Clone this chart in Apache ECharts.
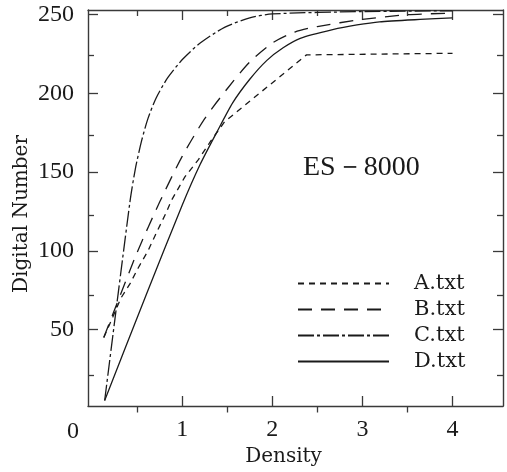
<!DOCTYPE html>
<html><head><meta charset="utf-8">
<script src="https://cdn.jsdelivr.net/npm/echarts@6/dist/echarts.min.js"></script>
<style>html,body{margin:0;padding:0;background:#fff}#c{width:507px;height:472px}</style>
</head><body><div id="c"></div>
<script>
// ---- data ----
const seriesNames = ['A.txt', 'B.txt', 'C.txt', 'D.txt'];
const dataA = [[0.13,45],[0.23,58],[0.32,70],[0.42,79],[0.51,89],[0.62,100],[0.71,111],[0.82,124],[0.88,132],[1.03,147],[1.18,158],[1.32,170],[1.47,182],[2.38,224.5],[4.0,225.5]];
const dataB = [[0.13,45],[0.3,70],[0.5,99],[0.75,131],[1.0,160],[1.25,184],[1.5,203],[1.75,220],[2.0,232],[2.25,239],[2.5,242.5],[3.0,247],[3.5,250],[4.0,251]];
const dataC = [[0.14,5],[0.42,131],[0.48,152],[0.55,170],[0.62,184],[0.71,197],[0.84,210],[1.01,222],[1.2,232],[1.47,242],[1.75,248],[2.0,250.5],[3.0,252],[4.0,252.5]];
const dataD = [[0.14,5],[0.6,72],[1.0,129],[1.2,155],[1.39,176],[1.56,194],[1.75,209],[1.94,221],[2.12,229],[2.31,235],[2.67,240.5],[2.94,243.5],[3.19,245.5],[3.64,247],[4.0,248]];
const xMajorTicks = [1, 2, 3, 4];
const xMinorTicks = [0.5, 1.5, 2.5, 3.5];
const yMajorTicks = [50, 100, 150, 200, 250];
const yMinorTicks = [25, 75, 125, 175, 225];
const originLabel = '0';
const xName = 'Density';
const yName = 'Digital Number';
const titleText = 'ES－8000';

// ---- style ----
const X_MIN = -0.045, X_MAX = 4.56, Y_MIN = 1.5, Y_MAX = 253;
const ink = '#1a1a1a';
const axisInk = '#3a3a3a';
const numFont = 'Liberation Serif';
const nameFont = 'DejaVu Serif';
const gridRect = { left: 88, right: 4, top: 10, bottom: 59.5 };

function makeAxis(kind, gridIndex, position, ticks, len, showLine, labels) {
  return {
    type: 'value', gridIndex, position,
    min: kind === 'x' ? X_MIN : Y_MIN,
    max: kind === 'x' ? X_MAX : Y_MAX,
    splitLine: { show: false },
    axisLine: { show: showLine, onZero: false, lineStyle: { color: axisInk, width: 1.4 } },
    axisTick: { show: true, inside: true, length: len, customValues: ticks,
                lineStyle: { color: axisInk, width: 1.3 } },
    axisLabel: labels ? {
      show: true, customValues: labels, color: ink, fontFamily: numFont, fontSize: 24,
      margin: kind === 'x' ? 12 : 14
    } : { show: false }
  };
}

const xAxes = [
  makeAxis('x', 0, 'bottom', xMajorTicks, 10, true, xMajorTicks),
  makeAxis('x', 0, 'top', xMajorTicks, 10, true, null),
  makeAxis('x', 1, 'bottom', xMinorTicks, 6, false, null),
  makeAxis('x', 1, 'top', xMinorTicks, 6, false, null)
];
xAxes[0].name = xName;
xAxes[0].nameLocation = 'middle';
xAxes[0].nameGap = 41;
xAxes[0].nameMoveOverlap = false;
xAxes[0].nameTextStyle = { color: ink, fontFamily: nameFont, fontSize: 20, padding: [0, 24, 0, 0] };

const yAxes = [
  makeAxis('y', 0, 'left', yMajorTicks, 10, true, yMajorTicks),
  makeAxis('y', 0, 'right', yMajorTicks, 10, true, null),
  makeAxis('y', 1, 'left', yMinorTicks, 6, false, null),
  makeAxis('y', 1, 'right', yMinorTicks, 6, false, null)
];
yAxes[0].name = yName;
yAxes[0].nameLocation = 'middle';
yAxes[0].nameGap = 56;
yAxes[0].nameMoveOverlap = false;
yAxes[0].nameTextStyle = { color: ink, fontFamily: nameFont, fontSize: 20, padding: [0, 12, 0, 0] };

const styles = [
  { type: [6, 5], smooth: false },
  { type: [14, 9], smooth: 0.25 },
  { type: [16, 3, 3, 3], smooth: 0.25 },
  { type: 'solid', smooth: 0.2 }
];
const datasets = [dataA, dataB, dataC, dataD];

const series = seriesNames.map((n, i) => ({
  name: n, type: 'line', xAxisIndex: 0, yAxisIndex: 0,
  data: datasets[i], symbol: 'none', smooth: styles[i].smooth,
  lineStyle: { color: ink, width: 1.3, type: styles[i].type },
  itemStyle: { color: ink },
  animation: false
}));

const chart = echarts.init(document.getElementById('c'), null, { renderer: 'canvas' });
chart.setOption({
  backgroundColor: '#fff',
  animation: false,
  grid: [Object.assign({}, gridRect), Object.assign({}, gridRect)],
  xAxis: xAxes,
  yAxis: yAxes,
  legend: {
    data: seriesNames, orient: 'vertical', left: 297, top: 273, padding: 0,
    itemWidth: 91, itemHeight: 14, itemGap: 5, selectedMode: false,
    itemStyle: { opacity: 0 },
    textStyle: { color: ink, fontFamily: nameFont, fontSize: 21, lineHeight: 20, padding: [0, 0, 0, 20] }
  },
  graphic: [
    { type: 'text', x: 303, y: 168, style: { text: titleText, fill: ink, font: '28px "Liberation Serif"', verticalAlign: 'middle', align: 'left' } },
    { type: 'text', x: 73, y: 432, style: { text: originLabel, fill: ink, font: '24px "Liberation Serif"', verticalAlign: 'middle', align: 'center' } }
  ],
  series: series
});
</script></body></html>
